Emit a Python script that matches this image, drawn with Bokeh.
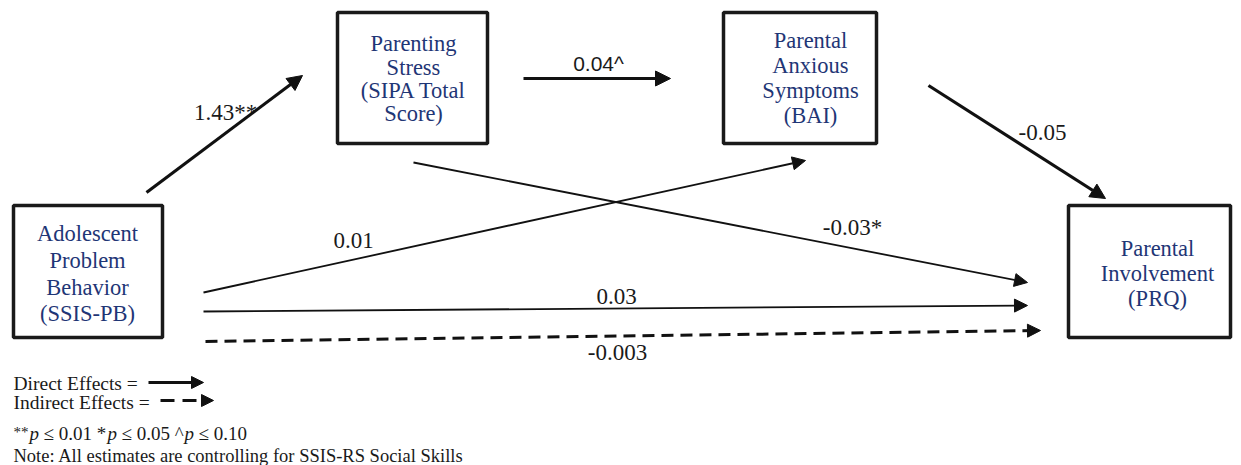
from bokeh.plotting import figure
from bokeh.models import Range1d, Arrow, NormalHead, ColumnDataSource
from bokeh.core.properties import value
from bokeh.embed import file_html
from bokeh.resources import INLINE

# ---- data ----
node_names = ["Adolescent Problem Behavior", "Parenting Stress", "Parental Anxious Symptoms", "Parental Involvement"]
node_lines = [
    ["Adolescent", "Problem", "Behavior", "(SSIS-PB)"],
    ["Parenting", "Stress", "(SIPA Total", "Score)"],
    ["Parental", "Anxious", "Symptoms", "(BAI)"],
    ["Parental", "Involvement", "(PRQ)"],
]
path_from = ["A", "B", "C", "B", "A", "A", "A"]
path_to = ["B", "C", "D", "D", "C", "D", "D"]
path_coef = ["1.43**", "0.04^", "-0.05", "-0.03*", "0.01", "0.03", "-0.003"]
path_type = ["direct", "direct", "direct", "direct", "direct", "direct", "indirect"]
legend_labels = ["Direct Effects =", "Indirect Effects ="]
sig_note = ["**", "p", "\u2264 0.01 *", "p", "\u2264 0.05 ^", "p", "\u2264 0.10"]
note_text = "Note: All estimates are controlling for SSIS-RS Social Skills"

# ---- layout (positions in page pixels) ----
boxes = {  # left, top, right, bottom
    "A": (13, 205, 162, 337),
    "B": (337, 12, 487, 143),
    "C": (723, 12, 876, 143),
    "D": (1068, 205, 1230, 337),
}
box_text_x = {"A": 87, "B": 413, "C": 810, "D": 1157}
box_text_y = {"A": [233, 260, 287, 313], "B": [43, 67, 90, 113],
              "C": [40, 65, 90, 115], "D": [248, 273, 298]}
arrow_geom = [  # x0, y0, x1, y1, width, head size
    (146, 192, 302, 75, 3.2, 15),
    (523, 78, 670, 78, 3.2, 15),
    (928, 85, 1105, 198, 3.2, 15),
    (413, 162, 1027, 282, 1.8, 13),
    (203, 292, 805, 160, 1.8, 13),
    (203, 311, 1027, 305, 1.8, 13),
    (205, 341, 1040, 330, 3.0, 13),
]
label_pos = [(225, 112), (598, 63), (1042, 132), (852, 227), (353, 240), (616, 296), (617, 352)]
label_font = ["Liberation Serif", "Liberation Sans", "Liberation Serif", "Liberation Serif",
              "Liberation Serif", "Liberation Serif", "Liberation Serif"]
label_size = ["23px", "21px", "23px", "23px", "23px", "23px", "23px"]

NAVY = "#1f3676"
INK = "#111111"

p = figure(width=1241, height=465, output_backend="svg", toolbar_location=None,
           x_range=Range1d(0, 1241), y_range=Range1d(465, 0),
           x_axis_type=None, y_axis_type=None, min_border=0)
p.grid.visible = False
p.outline_line_color = None
p.background_fill_color = "white"

# arrows first
for (x0, y0, x1, y1, lw, hs), t in zip(arrow_geom, path_type):
    dash = "solid" if t == "direct" else "12 7"
    p.add_layout(Arrow(end=NormalHead(size=hs, fill_color=INK, line_color=INK, line_width=1),
                       x_start=x0, y_start=y0, x_end=x1, y_end=y1,
                       line_color=INK, line_width=lw, line_dash=dash))

# boxes
ks = ["A", "B", "C", "D"]
bsrc = ColumnDataSource(dict(
    left=[boxes[k][0] for k in ks], right=[boxes[k][2] for k in ks],
    top=[boxes[k][1] for k in ks], bottom=[boxes[k][3] for k in ks], name=node_names))
p.quad(left="left", right="right", top="top", bottom="bottom", source=bsrc,
       fill_color="white", line_color="#1a1a1a", line_width=3.5)

# box texts
tx, ty, tt = [], [], []
for k, lines in zip(ks, node_lines):
    for yy, s in zip(box_text_y[k], lines):
        tx.append(box_text_x[k]); ty.append(yy); tt.append(s)
p.text(x=tx, y=ty, text=tt, text_align="center", text_baseline="middle",
       text_font=value("Liberation Serif"), text_font_size="22.5px", text_color=NAVY)

# path labels
for (lx, ly), s, f, fs in zip(label_pos, path_coef, label_font, label_size):
    p.text(x=[lx], y=[ly], text=[s], text_align="center", text_baseline="middle",
           text_font=value(f), text_font_size=fs, text_color="#1a1a1a")

# legend
p.text(x=[13, 13], y=[383, 402], text=legend_labels, text_align="left", text_baseline="middle",
       text_font=value("Liberation Serif"), text_font_size="19.5px", text_color="#1a1a1a")
p.add_layout(Arrow(end=NormalHead(size=12, fill_color=INK, line_color=INK, line_width=1),
                   x_start=148, y_start=382, x_end=203, y_end=382,
                   line_color=INK, line_width=3))
p.add_layout(Arrow(end=NormalHead(size=12, fill_color=INK, line_color=INK, line_width=1),
                   x_start=160, y_start=400, x_end=213, y_end=400,
                   line_color=INK, line_width=3, line_dash="14 8"))

sig_x = [13, 29, 43, 107, 121, 184, 198]
sig_style = ["normal", "italic", "normal", "italic", "normal", "italic", "normal"]
sig_size = ["15px", "19px", "19px", "19px", "19px", "19px", "19px"]
sig_y = [431, 433, 433, 433, 433, 433, 433]
for sx, sy, s, st, ss in zip(sig_x, sig_y, sig_note, sig_style, sig_size):
    p.text(x=[sx], y=[sy], text=[s], text_align="left", text_baseline="middle",
           text_font=value("Liberation Serif"), text_font_size=ss,
           text_font_style=st, text_color="#1a1a1a")

p.text(x=[13], y=[455], text=[note_text], text_align="left", text_baseline="middle",
       text_font=value("Liberation Serif"), text_font_size="18.5px", text_color="#1a1a1a")

open("out.html", "w").write(file_html(p, INLINE))
